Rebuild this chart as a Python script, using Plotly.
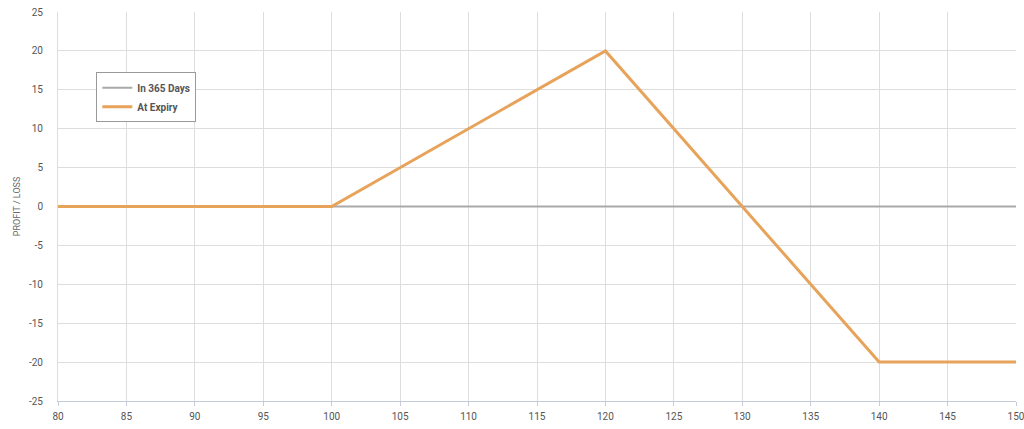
import plotly.graph_objects as go

price = [80, 100, 120, 130, 140, 150]
at_expiry = [0, 0, 20, 0, -20, -20]
days365_x = [80, 150]
days365_y = [0, 0]
x_ticks = list(range(80, 151, 5))
y_ticks = list(range(-25, 26, 5))
y_labels = [str(v) for v in y_ticks]

fig = go.Figure()
fig.add_trace(go.Scatter(x=days365_x, y=days365_y, mode="lines", name="In 365 Days",
                         line=dict(color="#a9a9a9", width=2)))
fig.add_trace(go.Scatter(x=price, y=at_expiry, mode="lines", name="At Expiry",
                         line=dict(color="#e8a35a", width=3)))

font_family = "Roboto, Arial"
fig.update_layout(
    width=1024, height=429,
    margin=dict(l=58, r=8, t=12, b=28),
    paper_bgcolor="white", plot_bgcolor="white",
    font=dict(family=font_family, color="#555555", size=10),
    legend=dict(x=0.04, y=0.845, xanchor="left", yanchor="top",
                bgcolor="white", bordercolor="#999999", borderwidth=1,
                font=dict(size=10, color="#555555", family=font_family, weight="bold"),
                itemwidth=30, tracegroupgap=0, itemclick=False),
    showlegend=True,
)
fig.update_xaxes(range=[80, 150], tickvals=x_ticks, showgrid=True, gridcolor="#dddddd",
                 gridwidth=1, zeroline=False, showline=True, linecolor="#c5cbd8",
                 ticks="outside", ticklen=4, tickcolor="#c5cbd8", automargin=False,
                 ticklabeloverflow="allow", ticklabelstandoff=2)
fig.update_yaxes(range=[-25, 25], tickvals=y_ticks, ticktext=y_labels, showgrid=True,
                 gridcolor="#dddddd", gridwidth=1, zeroline=False, showline=True,
                 linecolor="#dddddd", ticks="", automargin=False,
                 ticklabeloverflow="allow", ticklabelstandoff=12,
                 title=dict(text="PROFIT / LOSS", font=dict(size=9, color="#666666"), standoff=6))
fig.write_html("out.html", post_script="document.body.style.margin='0';",
               config={"displayModeBar": False})
